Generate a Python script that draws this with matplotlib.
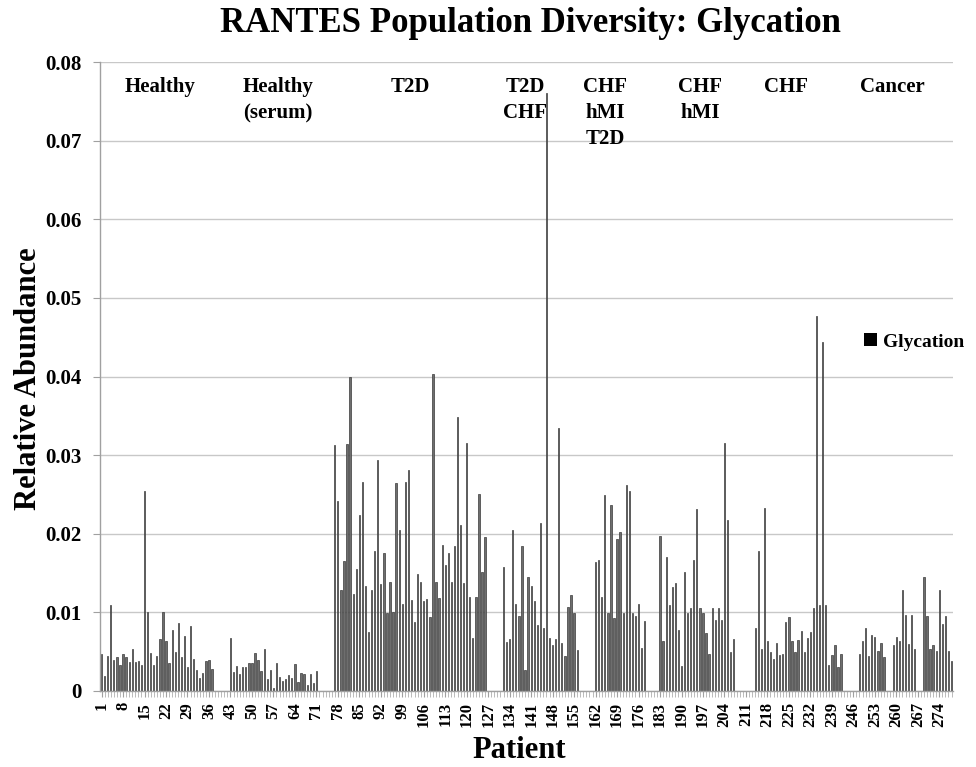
import numpy as np
import matplotlib
matplotlib.use("Agg")
import matplotlib.pyplot as plt
from matplotlib.patches import Patch

plt.rcParams['font.family'] = ['Liberation Serif', 'DejaVu Serif']
plt.rcParams['font.weight'] = 'bold'

# relative abundance of glycated RANTES per patient, one list per cohort
healthy_start = 1
healthy = [0.0047, 0.0019, 0.0044, 0.0110, 0.0039, 0.0043, 0.0033, 0.0047, 0.0043, 0.0037,
           0.0053, 0.0037, 0.0038, 0.0033, 0.0255, 0.0100, 0.0048, 0.0033, 0.0045, 0.0066,
           0.0100, 0.0063, 0.0036, 0.0077, 0.0050, 0.0087, 0.0043, 0.0070, 0.0031, 0.0083,
           0.0041, 0.0027, 0.0016, 0.0023, 0.0038, 0.0039, 0.0028]

serum_start = 43
healthy_serum = [0.0068, 0.0024, 0.0032, 0.0022, 0.0030, 0.0030, 0.0035, 0.0036, 0.0048, 0.0039,
                 0.0026, 0.0053, 0.0015, 0.0027, 0.0004, 0.0036, 0.0018, 0.0013, 0.0015, 0.0020,
                 0.0017, 0.0034, 0.0012, 0.0023, 0.0021, 0.0008, 0.0021, 0.0010, 0.0026]

t2d_start = 77
t2d = [0.0313, 0.0242, 0.0128, 0.0165, 0.0314, 0.0400, 0.0123, 0.0155, 0.0224, 0.0266,
       0.0133, 0.0075, 0.0129, 0.0178, 0.0294, 0.0136, 0.0175, 0.0099, 0.0139, 0.0101,
       0.0265, 0.0205, 0.0111, 0.0266, 0.0281, 0.0116, 0.0088, 0.0149, 0.0138, 0.0115,
       0.0117, 0.0094, 0.0403, 0.0139, 0.0118, 0.0186, 0.0160, 0.0175, 0.0138, 0.0184,
       0.0349, 0.0211, 0.0137, 0.0315, 0.0119, 0.0068, 0.0120, 0.0250, 0.0151, 0.0196]

t2d_chf_start = 132
t2d_chf = [0.0158, 0.0062, 0.0066, 0.0205, 0.0111, 0.0095, 0.0185, 0.0027, 0.0145, 0.0134,
           0.0115, 0.0084, 0.0214, 0.0080, 0.0760, 0.0068, 0.0058, 0.0066, 0.0334, 0.0061,
           0.0044, 0.0107, 0.0122, 0.0099, 0.0052]

chf_hmi_t2d_start = 162
chf_hmi_t2d = [0.0164, 0.0166, 0.0119, 0.0249, 0.0099, 0.0236, 0.0093, 0.0193, 0.0202, 0.0099,
               0.0262, 0.0255, 0.0099, 0.0096, 0.0111, 0.0055, 0.0089]

chf_hmi_start = 183
chf_hmi = [0.0197, 0.0063, 0.0170, 0.0109, 0.0132, 0.0137, 0.0077, 0.0032, 0.0151, 0.0099,
           0.0106, 0.0167, 0.0231, 0.0105, 0.0099, 0.0074, 0.0047, 0.0105, 0.0090, 0.0105,
           0.0090, 0.0316, 0.0217, 0.0049, 0.0066]

chf_start = 214
chf = [0.0080, 0.0178, 0.0054, 0.0233, 0.0063, 0.0050, 0.0041, 0.0061, 0.0046, 0.0047,
       0.0088, 0.0094, 0.0063, 0.0049, 0.0065, 0.0076, 0.0049, 0.0067, 0.0075, 0.0106,
       0.0477, 0.0109, 0.0444, 0.0110, 0.0033, 0.0046, 0.0058, 0.0031, 0.0047]

cancer_start = 248
cancer = [0.0047, 0.0063, 0.0080, 0.0045, 0.0071, 0.0069, 0.0051, 0.0061, 0.0043, 0.0,
          0.0, 0.0059, 0.0069, 0.0064, 0.0129, 0.0097, 0.0060, 0.0097, 0.0053, 0.0,
          0.0, 0.0145, 0.0095, 0.0053, 0.0059, 0.0051, 0.0128, 0.0085, 0.0096, 0.0051,
          0.0038]

n_patients = 278

group_names = ["Healthy", "Healthy\n(serum)", "T2D", "T2D\nCHF", "CHF\nhMI\nT2D",
               "CHF\nhMI", "CHF", "Cancer"]
group_label_x = [20.1, 58.5, 101.5, 139.0, 165.1, 196.1, 224.1, 258.6]

groups = [(healthy_start, healthy), (serum_start, healthy_serum), (t2d_start, t2d),
          (t2d_chf_start, t2d_chf), (chf_hmi_t2d_start, chf_hmi_t2d),
          (chf_hmi_start, chf_hmi), (chf_start, chf), (cancer_start, cancer)]

fig = plt.figure(figsize=(9.76, 7.67), dpi=100)
ax = fig.add_axes([0.1025, 0.0991, 0.874, 0.820])

# thin outlined bars so neighbouring patients stay separated
for start, vals in groups:
    x = start + np.arange(len(vals))
    ax.bar(x, vals, width=0.42, color='#6e6e6e', edgecolor='#3a3a3a', linewidth=0.5, zorder=2)

ax.set_xlim(0.5, n_patients + 0.5)
ax.set_ylim(0, 0.08)
ax.set_yticks(np.arange(0, 0.081, 0.01))
ax.set_yticklabels(['0'] + ['%.2f' % v for v in np.arange(0.01, 0.081, 0.01)])
ax.yaxis.grid(True, color='#c8c8c8', linewidth=1.0, zorder=0)
ax.set_axisbelow(True)

major = np.arange(1, n_patients + 1, 7)
ax.set_xticks(major)
ax.set_xticklabels([str(m) for m in major], rotation=90)
ax.set_xticks(np.arange(1, n_patients + 1), minor=True)

for side in ['top', 'right']:
    ax.spines[side].set_visible(False)
for side in ['left', 'bottom']:
    ax.spines[side].set_color('#a0a0a0')
    ax.spines[side].set_linewidth(1.0)

ax.tick_params(axis='y', length=5, color='#a0a0a0', pad=8, labelsize=15)
ax.tick_params(axis='x', which='major', length=4, color='#a0a0a0', pad=4, labelsize=12)
ax.tick_params(axis='x', which='minor', length=4, color='#b0b0b0')
for lbl in ax.get_xticklabels() + ax.get_yticklabels():
    lbl.set_fontweight('bold')

for name, gx in zip(group_names, group_label_x):
    ax.text(gx, 0.0781, name, ha='center', va='top', fontsize=15,
            fontweight='bold', linespacing=1.4)

fig.text(0.543, 0.969, "RANTES Population Diversity: Glycation", ha='center', va='center',
         fontsize=25, fontweight='bold')
fig.text(0.029, 0.506, "Relative Abundance", ha='center', va='center', rotation=90,
         fontsize=22, fontweight='bold')
fig.text(0.532, 0.021, "Patient", ha='center', va='center', fontsize=22, fontweight='bold')

handle = Patch(facecolor='black', edgecolor='none')
ax.legend([handle], ["Glycation"], loc='center left', bbox_to_anchor=(0.896, 0.0444 / 0.08),
          frameon=False, handlelength=0.65, handleheight=0.65, handletextpad=0.3,
          borderpad=0, borderaxespad=0, prop={'size': 14, 'weight': 'bold'})

fig.savefig("out.png", dpi=100)
